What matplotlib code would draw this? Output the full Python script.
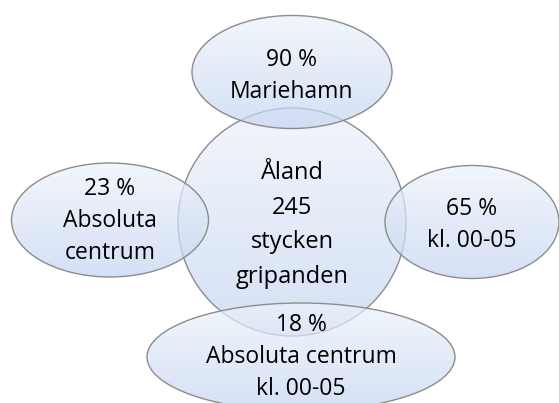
import numpy as np
import matplotlib
matplotlib.use('Agg')
import matplotlib.pyplot as plt
from matplotlib.patches import Ellipse

# Text in each bubble
center_label = ['Åland', '245', 'stycken', 'gripanden']
shares = ['90 %', '23 %', '65 %', '18 %']
groups = ['Mariehamn', 'Absoluta\ncentrum', 'kl. 00-05', 'Absoluta centrum\nkl. 00-05']

plt.rcParams['font.family'] = ['Open Sans', 'DejaVu Sans']

fig = plt.figure(figsize=(5.59, 4.03), dpi=100)
ax = fig.add_axes([0, 0, 1, 1])
ax.set_xlim(0, 559)
ax.set_ylim(403, 0)
ax.axis('off')

# gradient image (light at top, bluer at bottom)
grad = np.linspace(0, 1, 256).reshape(-1, 1)
cmap = matplotlib.colors.LinearSegmentedColormap.from_list('bub', ['#eef3fb', '#c4d5f2'])

def bubble(cx, cy, w, h, z):
    e = Ellipse((cx, cy), w, h, facecolor='none', edgecolor='#8c8c8c', lw=1.0, zorder=z + 1)
    ax.add_patch(e)
    im = ax.imshow(grad, cmap=cmap, extent=[cx - w / 2, cx + w / 2, cy + h / 2, cy - h / 2],
                   aspect='auto', alpha=0.72, zorder=z, interpolation='bilinear')
    im.set_clip_path(e)

# layout: (cx, cy, w, h)
outer = [(292, 72, 200, 113), (110, 220, 197, 114), (472, 222, 174, 113), (301, 357, 308, 108)]

bubble(292, 222, 228, 228, 2)
for i, (cx, cy, w, h) in enumerate(outer):
    bubble(cx, cy, w, h, 4 + 2 * i)

ax.text(292, 225, '\n'.join(center_label), ha='center', va='center', fontsize=17,
        linespacing=1.6, zorder=20)

text_pos = [(292, 76), (110, 221), (472, 225), (301, 357)]
for (tx, ty), s, g in zip(text_pos, shares, groups):
    ax.text(tx, ty, s + '\n' + g, ha='center', va='center', fontsize=16.5,
            linespacing=1.45, zorder=20)

ax.set_xlim(0, 559)
ax.set_ylim(403, 0)
fig.savefig('out.png', dpi=100)
